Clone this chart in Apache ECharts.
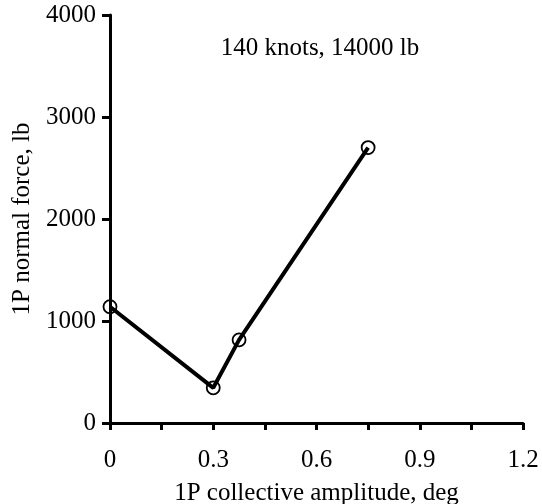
<!DOCTYPE html>
<html>
<head>
<meta charset="utf-8">
<script src="https://cdn.jsdelivr.net/npm/echarts@6/dist/echarts.min.js"></script>
<style>html,body{margin:0;padding:0;background:#fff;}#c{width:542px;height:504px;}</style>
</head>
<body>
<div id="c"></div>
<script>
var amplitude = [0.0, 0.30, 0.375, 0.75];
var normalForce = [1140, 345, 815, 2700];
var xTicks = [0, 0.3, 0.6, 0.9, 1.2];
var yTicks = [0, 1000, 2000, 3000, 4000];
var annotation = '140 knots, 14000 lb';

var font = 'Liberation Serif';
var chart = echarts.init(document.getElementById('c'));
var pts = amplitude.map(function (a, i) { return [a, normalForce[i]]; });
chart.setOption({
  animation: false,
  backgroundColor: '#fff',
  grid: { left: 110, right: 19, top: 15, bottom: 81, outerBoundsMode: 'none', containLabel: false },
  title: {
    text: annotation, left: 315, top: 31, textAlign: 'center',
    textStyle: { fontFamily: font, fontSize: 25, fontWeight: 'normal', color: '#000' }
  },
  xAxis: {
    type: 'value', min: xTicks[0], max: xTicks[xTicks.length - 1], interval: 0.3,
    name: '1P collective amplitude, deg', nameLocation: 'middle', nameGap: 58,
    nameTextStyle: { fontFamily: font, fontSize: 25, color: '#000' },
    axisLine: { show: true, onZero: false, lineStyle: { color: '#000', width: 3 } },
    axisTick: { show: true, inside: false, length: 7, lineStyle: { color: '#000', width: 3 } },
    minorTick: { show: true, splitNumber: 2, length: 7, lineStyle: { color: '#000', width: 3 } },
    splitLine: { show: false },
    axisLabel: { margin: 25, fontFamily: font, fontSize: 25, color: '#000',
      formatter: function (v) { return v === 0 ? '0' : v.toFixed(1); } }
  },
  yAxis: {
    type: 'value', min: yTicks[0], max: yTicks[yTicks.length - 1], interval: 1000,
    name: '1P normal force, lb', nameLocation: 'middle', nameGap: 72,
    nameTextStyle: { fontFamily: font, fontSize: 25, color: '#000' },
    axisLine: { show: true, onZero: false, lineStyle: { color: '#000', width: 3 } },
    axisTick: { show: true, inside: false, length: 8, lineStyle: { color: '#000', width: 3 } },
    splitLine: { show: false },
    axisLabel: { margin: 14, fontFamily: font, fontSize: 25, color: '#000',
      formatter: function (v) { return String(v); } }
  },
  series: [{
    type: 'line', data: pts, symbol: 'circle', symbolSize: 13,
    lineStyle: { color: '#000', width: 4 },
    itemStyle: { color: 'rgba(0,0,0,0)', borderColor: '#000', borderWidth: 1.8 },
    z: 3
  }]
});
</script>
</body>
</html>
